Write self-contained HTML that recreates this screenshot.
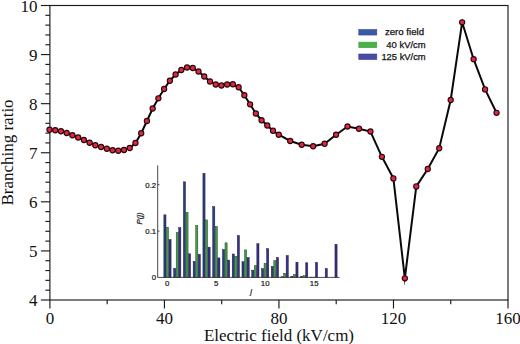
<!DOCTYPE html>
<html><head><meta charset="utf-8"><title>Branching ratio</title>
<style>
html,body{margin:0;padding:0;background:#fff;}
body{width:520px;height:344px;overflow:hidden;}
svg{display:block;}
.t{font-family:"Liberation Serif",serif;font-size:17px;fill:#111;}
.s{font-family:"Liberation Sans",sans-serif;fill:#111;}
</style></head><body>
<svg width="520" height="344" viewBox="0 0 520 344">
<rect width="520" height="344" fill="#fff"/>
<g stroke="#1a1a1a" stroke-width="1.15" fill="none">
<rect x="49.9" y="5.5" width="458.1" height="294.5"/>
<line x1="40.90" y1="300.00" x2="49.9" y2="300.00"/>
<line x1="45.40" y1="290.18" x2="49.9" y2="290.18"/>
<line x1="45.40" y1="280.37" x2="49.9" y2="280.37"/>
<line x1="45.40" y1="270.55" x2="49.9" y2="270.55"/>
<line x1="45.40" y1="260.73" x2="49.9" y2="260.73"/>
<line x1="40.90" y1="250.92" x2="49.9" y2="250.92"/>
<line x1="45.40" y1="241.10" x2="49.9" y2="241.10"/>
<line x1="45.40" y1="231.28" x2="49.9" y2="231.28"/>
<line x1="45.40" y1="221.47" x2="49.9" y2="221.47"/>
<line x1="45.40" y1="211.65" x2="49.9" y2="211.65"/>
<line x1="40.90" y1="201.83" x2="49.9" y2="201.83"/>
<line x1="45.40" y1="192.02" x2="49.9" y2="192.02"/>
<line x1="45.40" y1="182.20" x2="49.9" y2="182.20"/>
<line x1="45.40" y1="172.38" x2="49.9" y2="172.38"/>
<line x1="45.40" y1="162.57" x2="49.9" y2="162.57"/>
<line x1="40.90" y1="152.75" x2="49.9" y2="152.75"/>
<line x1="45.40" y1="142.93" x2="49.9" y2="142.93"/>
<line x1="45.40" y1="133.12" x2="49.9" y2="133.12"/>
<line x1="45.40" y1="123.30" x2="49.9" y2="123.30"/>
<line x1="45.40" y1="113.48" x2="49.9" y2="113.48"/>
<line x1="40.90" y1="103.67" x2="49.9" y2="103.67"/>
<line x1="45.40" y1="93.85" x2="49.9" y2="93.85"/>
<line x1="45.40" y1="84.03" x2="49.9" y2="84.03"/>
<line x1="45.40" y1="74.22" x2="49.9" y2="74.22"/>
<line x1="45.40" y1="64.40" x2="49.9" y2="64.40"/>
<line x1="40.90" y1="54.58" x2="49.9" y2="54.58"/>
<line x1="45.40" y1="44.77" x2="49.9" y2="44.77"/>
<line x1="45.40" y1="34.95" x2="49.9" y2="34.95"/>
<line x1="45.40" y1="25.13" x2="49.9" y2="25.13"/>
<line x1="45.40" y1="15.32" x2="49.9" y2="15.32"/>
<line x1="40.90" y1="5.50" x2="49.9" y2="5.50"/>
<line x1="49.90" y1="300.0" x2="49.90" y2="308.5"/>
<line x1="107.16" y1="300.0" x2="107.16" y2="304.3"/>
<line x1="164.43" y1="300.0" x2="164.43" y2="308.5"/>
<line x1="221.69" y1="300.0" x2="221.69" y2="304.3"/>
<line x1="278.95" y1="300.0" x2="278.95" y2="308.5"/>
<line x1="336.21" y1="300.0" x2="336.21" y2="304.3"/>
<line x1="393.48" y1="300.0" x2="393.48" y2="308.5"/>
<line x1="450.74" y1="300.0" x2="450.74" y2="304.3"/>
<line x1="508.00" y1="300.0" x2="508.00" y2="308.5"/>
</g>
<text class="t" x="37.4" y="306.00" text-anchor="end">4</text>
<text class="t" x="37.4" y="256.92" text-anchor="end">5</text>
<text class="t" x="37.4" y="207.83" text-anchor="end">6</text>
<text class="t" x="37.4" y="158.75" text-anchor="end">7</text>
<text class="t" x="37.4" y="109.67" text-anchor="end">8</text>
<text class="t" x="37.4" y="60.58" text-anchor="end">9</text>
<text class="t" x="37.4" y="11.50" text-anchor="end">10</text>
<text class="t" x="49.90" y="324.3" text-anchor="middle">0</text>
<text class="t" x="164.43" y="324.3" text-anchor="middle">40</text>
<text class="t" x="278.95" y="324.3" text-anchor="middle">80</text>
<text class="t" x="393.48" y="324.3" text-anchor="middle">120</text>
<text class="t" x="508.00" y="324.3" text-anchor="middle">160</text>
<text class="t" x="279" y="341" text-anchor="middle">Electric field (kV/cm)</text>
<text class="t" transform="translate(13,152.5) rotate(-90)" text-anchor="middle">Branching ratio</text>
<path d="M49.50,129.75 L55.23,130.25 L60.96,131.25 L66.69,133.00 L72.42,135.25 L78.16,137.50 L83.89,140.00 L89.62,142.75 L95.35,145.25 L101.08,147.00 L106.81,148.75 L112.54,150.25 L118.28,150.75 L124.01,150.00 L129.74,148.00 L135.47,143.00 L141.20,133.25 L146.93,121.00 L152.66,108.50 L158.39,98.30 L164.12,89.00 L169.86,80.75 L175.59,74.50 L181.32,70.00 L187.05,67.50 L192.78,68.00 L198.51,71.50 L204.24,76.50 L209.97,81.50 L215.71,84.50 L221.44,85.50 L227.17,84.50 L232.90,84.25 L238.63,87.25 L244.36,95.25 L250.09,104.30 L255.83,113.50 L261.56,120.25 L267.29,125.50 L273.02,130.75 L278.75,134.75 L290.21,141.00 L301.68,144.75 L313.14,146.25 L324.60,143.75 L336.06,134.75 L347.53,126.50 L358.99,128.75 L370.45,131.50 L381.91,156.80 L393.38,178.40 L404.84,278.30 L416.30,186.40 L427.76,169.00 L439.23,148.25 L450.69,100.00 L462.15,22.30 L473.61,59.20 L485.07,89.40 L496.54,112.80" fill="none" stroke="#0a0a0a" stroke-width="2.0" stroke-linejoin="miter" stroke-miterlimit="4"/>
<path d="M403.85,279 L405.55,279 L404.75,285.8 Z M461.5,21 L462.9,21 L462.1,18.4 Z" fill="#1a0505"/>
<g fill="#dc2a46" stroke="#2a0508" stroke-width="1.1">
<circle cx="49.50" cy="129.75" r="2.6"/>
<circle cx="55.23" cy="130.25" r="2.6"/>
<circle cx="60.96" cy="131.25" r="2.6"/>
<circle cx="66.69" cy="133.00" r="2.6"/>
<circle cx="72.42" cy="135.25" r="2.6"/>
<circle cx="78.16" cy="137.50" r="2.6"/>
<circle cx="83.89" cy="140.00" r="2.6"/>
<circle cx="89.62" cy="142.75" r="2.6"/>
<circle cx="95.35" cy="145.25" r="2.6"/>
<circle cx="101.08" cy="147.00" r="2.6"/>
<circle cx="106.81" cy="148.75" r="2.6"/>
<circle cx="112.54" cy="150.25" r="2.6"/>
<circle cx="118.28" cy="150.75" r="2.6"/>
<circle cx="124.01" cy="150.00" r="2.6"/>
<circle cx="129.74" cy="148.00" r="2.6"/>
<circle cx="135.47" cy="143.00" r="2.6"/>
<circle cx="141.20" cy="133.25" r="2.6"/>
<circle cx="146.93" cy="121.00" r="2.6"/>
<circle cx="152.66" cy="108.50" r="2.6"/>
<circle cx="158.39" cy="98.30" r="2.6"/>
<circle cx="164.12" cy="89.00" r="2.6"/>
<circle cx="169.86" cy="80.75" r="2.6"/>
<circle cx="175.59" cy="74.50" r="2.6"/>
<circle cx="181.32" cy="70.00" r="2.6"/>
<circle cx="187.05" cy="67.50" r="2.6"/>
<circle cx="192.78" cy="68.00" r="2.6"/>
<circle cx="198.51" cy="71.50" r="2.6"/>
<circle cx="204.24" cy="76.50" r="2.6"/>
<circle cx="209.97" cy="81.50" r="2.6"/>
<circle cx="215.71" cy="84.50" r="2.6"/>
<circle cx="221.44" cy="85.50" r="2.6"/>
<circle cx="227.17" cy="84.50" r="2.6"/>
<circle cx="232.90" cy="84.25" r="2.6"/>
<circle cx="238.63" cy="87.25" r="2.6"/>
<circle cx="244.36" cy="95.25" r="2.6"/>
<circle cx="250.09" cy="104.30" r="2.6"/>
<circle cx="255.83" cy="113.50" r="2.6"/>
<circle cx="261.56" cy="120.25" r="2.6"/>
<circle cx="267.29" cy="125.50" r="2.6"/>
<circle cx="273.02" cy="130.75" r="2.6"/>
<circle cx="278.75" cy="134.75" r="2.6"/>
<circle cx="290.21" cy="141.00" r="2.6"/>
<circle cx="301.68" cy="144.75" r="2.6"/>
<circle cx="313.14" cy="146.25" r="2.6"/>
<circle cx="324.60" cy="143.75" r="2.6"/>
<circle cx="336.06" cy="134.75" r="2.6"/>
<circle cx="347.53" cy="126.50" r="2.6"/>
<circle cx="358.99" cy="128.75" r="2.6"/>
<circle cx="370.45" cy="131.50" r="2.6"/>
<circle cx="381.91" cy="156.80" r="2.6"/>
<circle cx="393.38" cy="178.40" r="2.6"/>
<circle cx="404.84" cy="278.30" r="2.6"/>
<circle cx="416.30" cy="186.40" r="2.6"/>
<circle cx="427.76" cy="169.00" r="2.6"/>
<circle cx="439.23" cy="148.25" r="2.6"/>
<circle cx="450.69" cy="100.00" r="2.6"/>
<circle cx="462.15" cy="22.30" r="2.6"/>
<circle cx="473.61" cy="59.20" r="2.6"/>
<circle cx="485.07" cy="89.40" r="2.6"/>
<circle cx="496.54" cy="112.80" r="2.6"/>
</g>
<rect x="358.8" y="29.55" width="18" height="5.5" fill="#3a58a6" stroke="#2f4a92" stroke-width="0.6"/>
<text class="s" font-size="9.4" x="384.90" y="35.40" textLength="39.2" lengthAdjust="spacingAndGlyphs" stroke="#111" stroke-width="0.25">zero field</text>
<rect x="358.8" y="42.15" width="18" height="5.5" fill="#4bb04a" stroke="#3f9e40" stroke-width="0.6"/>
<text class="s" font-size="9.4" x="386.30" y="47.60" textLength="39.4" lengthAdjust="spacingAndGlyphs" stroke="#111" stroke-width="0.25">40 kV/cm</text>
<rect x="358.8" y="54.00" width="18" height="5.5" fill="#4a4aa6" stroke="#3c3c92" stroke-width="0.6"/>
<text class="s" font-size="9.4" x="381.40" y="60.10" textLength="44.3" lengthAdjust="spacingAndGlyphs" stroke="#111" stroke-width="0.25">125 kV/cm</text>
<g stroke-width="0.45">
<rect x="163.85" y="214.80" width="2.15" height="62.60" fill="#2c3c7e" stroke="#141c44"/>
<rect x="166.40" y="227.17" width="2.15" height="50.23" fill="#459a45" stroke="#1c401d"/>
<rect x="168.95" y="239.50" width="2.15" height="37.90" fill="#382f80" stroke="#181444"/>
<rect x="173.62" y="268.33" width="2.15" height="9.07" fill="#2c3c7e" stroke="#141c44"/>
<rect x="176.17" y="232.55" width="2.15" height="44.85" fill="#459a45" stroke="#1c401d"/>
<rect x="178.72" y="227.63" width="2.15" height="49.77" fill="#382f80" stroke="#181444"/>
<rect x="183.38" y="181.79" width="2.15" height="95.61" fill="#2c3c7e" stroke="#141c44"/>
<rect x="185.93" y="212.25" width="2.15" height="65.15" fill="#459a45" stroke="#1c401d"/>
<rect x="188.48" y="253.78" width="2.15" height="23.62" fill="#382f80" stroke="#181444"/>
<rect x="193.14" y="261.28" width="2.15" height="16.12" fill="#2c3c7e" stroke="#141c44"/>
<rect x="195.69" y="225.60" width="2.15" height="51.80" fill="#459a45" stroke="#1c401d"/>
<rect x="198.24" y="254.38" width="2.15" height="23.02" fill="#382f80" stroke="#181444"/>
<rect x="202.91" y="173.31" width="2.15" height="104.09" fill="#2c3c7e" stroke="#141c44"/>
<rect x="205.46" y="219.89" width="2.15" height="57.51" fill="#459a45" stroke="#1c401d"/>
<rect x="208.01" y="247.19" width="2.15" height="30.21" fill="#382f80" stroke="#181444"/>
<rect x="212.68" y="206.68" width="2.15" height="70.72" fill="#2c3c7e" stroke="#141c44"/>
<rect x="215.23" y="226.38" width="2.15" height="51.02" fill="#459a45" stroke="#1c401d"/>
<rect x="217.78" y="257.90" width="2.15" height="19.50" fill="#382f80" stroke="#181444"/>
<rect x="222.44" y="249.56" width="2.15" height="27.84" fill="#2c3c7e" stroke="#141c44"/>
<rect x="224.99" y="242.84" width="2.15" height="34.56" fill="#459a45" stroke="#1c401d"/>
<rect x="227.54" y="260.08" width="2.15" height="17.32" fill="#382f80" stroke="#181444"/>
<rect x="232.20" y="254.01" width="2.15" height="23.39" fill="#2c3c7e" stroke="#141c44"/>
<rect x="234.75" y="256.33" width="2.15" height="21.07" fill="#459a45" stroke="#1c401d"/>
<rect x="237.30" y="235.51" width="2.15" height="41.89" fill="#382f80" stroke="#181444"/>
<rect x="241.97" y="261.75" width="2.15" height="15.65" fill="#2c3c7e" stroke="#141c44"/>
<rect x="244.52" y="249.88" width="2.15" height="27.52" fill="#459a45" stroke="#1c401d"/>
<rect x="247.07" y="257.58" width="2.15" height="19.82" fill="#382f80" stroke="#181444"/>
<rect x="251.74" y="270.18" width="2.15" height="7.22" fill="#2c3c7e" stroke="#141c44"/>
<rect x="254.29" y="265.60" width="2.15" height="11.80" fill="#459a45" stroke="#1c401d"/>
<rect x="256.84" y="243.72" width="2.15" height="33.68" fill="#382f80" stroke="#181444"/>
<rect x="261.50" y="268.65" width="2.15" height="8.75" fill="#2c3c7e" stroke="#141c44"/>
<rect x="264.05" y="263.28" width="2.15" height="14.12" fill="#459a45" stroke="#1c401d"/>
<rect x="266.60" y="248.63" width="2.15" height="28.77" fill="#382f80" stroke="#181444"/>
<rect x="271.26" y="266.34" width="2.15" height="11.06" fill="#2c3c7e" stroke="#141c44"/>
<rect x="273.81" y="260.64" width="2.15" height="16.76" fill="#459a45" stroke="#1c401d"/>
<rect x="276.37" y="257.58" width="2.15" height="19.82" fill="#382f80" stroke="#181444"/>
<rect x="281.03" y="276.67" width="2.15" height="0.73" fill="#2c3c7e" stroke="#141c44"/>
<rect x="283.58" y="273.29" width="2.15" height="4.11" fill="#459a45" stroke="#1c401d"/>
<rect x="286.13" y="255.58" width="2.15" height="21.82" fill="#382f80" stroke="#181444"/>
<rect x="290.80" y="276.21" width="2.15" height="1.19" fill="#2c3c7e" stroke="#141c44"/>
<rect x="293.35" y="274.54" width="2.15" height="2.86" fill="#459a45" stroke="#1c401d"/>
<rect x="295.90" y="262.21" width="2.15" height="15.19" fill="#382f80" stroke="#181444"/>
<rect x="300.56" y="276.21" width="2.15" height="1.19" fill="#2c3c7e" stroke="#141c44"/>
<rect x="303.11" y="275.75" width="2.15" height="1.65" fill="#459a45" stroke="#1c401d"/>
<rect x="305.66" y="262.81" width="2.15" height="14.59" fill="#382f80" stroke="#181444"/>
<rect x="310.32" y="277.14" width="2.15" height="0.26" fill="#2c3c7e" stroke="#141c44"/>
<rect x="312.88" y="277.14" width="2.15" height="0.26" fill="#459a45" stroke="#1c401d"/>
<rect x="315.43" y="262.49" width="2.15" height="14.91" fill="#382f80" stroke="#181444"/>
<rect x="325.19" y="268.65" width="2.15" height="8.75" fill="#382f80" stroke="#181444"/>
<rect x="334.95" y="244.32" width="2.15" height="33.08" fill="#382f80" stroke="#181444"/>
</g>
<g stroke="#333" stroke-width="0.9" fill="none">
<path d="M157.7,165.4 V277.4 H339.5"/>
<line x1="157.7" y1="231.05" x2="159.5" y2="231.05"/>
<line x1="157.7" y1="184.70" x2="159.5" y2="184.70"/>
</g>
<text class="s" font-size="7.8" stroke="#111" stroke-width="0.2" x="156.2" y="280.20" text-anchor="end">0</text>
<text class="s" font-size="7.8" stroke="#111" stroke-width="0.2" x="156.2" y="233.85" text-anchor="end">0.1</text>
<text class="s" font-size="7.8" stroke="#111" stroke-width="0.2" x="156.2" y="187.50" text-anchor="end">0.2</text>
<text class="s" font-size="7.8" stroke="#111" stroke-width="0.2" x="167.20" y="286" text-anchor="middle">0</text>
<text class="s" font-size="7.8" stroke="#111" stroke-width="0.2" x="216.20" y="286" text-anchor="middle">5</text>
<text class="s" font-size="7.8" stroke="#111" stroke-width="0.2" x="265.20" y="286" text-anchor="middle">10</text>
<text class="s" font-size="7.8" stroke="#111" stroke-width="0.2" x="314.20" y="286" text-anchor="middle">15</text>
<text class="s" font-size="7.8" stroke="#111" stroke-width="0.2" font-style="italic" x="251" y="294" text-anchor="middle">j</text>
<text class="s" font-size="7.8" stroke="#111" stroke-width="0.2" font-style="italic" transform="translate(142.2,218.5) rotate(-90)" text-anchor="middle">P(j)</text>
</svg></body></html>
